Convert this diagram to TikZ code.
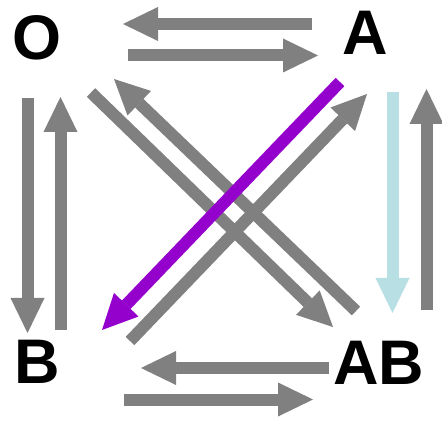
\documentclass[tikz,border=0pt]{standalone}
\usepackage{fontspec}
\setmainfont{Liberation Sans}
\usetikzlibrary{arrows.meta}
\definecolor{arrgray}{HTML}{808080}
\definecolor{arrpurple}{HTML}{9400CC}
\definecolor{arrcyan}{HTML}{B8DFE3}
\tikzset{
  lbl/.style={anchor=base, inner sep=0pt, font=\fontsize{63pt}{63pt}\selectfont\bfseries},
  fat/.style={line width=12pt, draw=arrgray, line cap=butt,
    -{Triangle[length=35pt 0 0, width=34pt 0 0, line width=0pt 0 0]}},
}
\begin{document}
\begin{tikzpicture}[x=1pt, y=-1pt]
\useasboundingbox[fill=white] (0,0) rectangle (442,422);
% labels
\node[lbl] (O)  at (37.5,59.5) {O};
\node[lbl] (A)  at (365.5,55) {A};
\node[lbl] (B)  at (37.5,383) {B};
\node[lbl] (AB) at (379,384) {AB};
% arrow end points
\coordinate (t1s) at (312,24);   \coordinate (t1e) at (123,24);
\coordinate (t2s) at (128,55.5); \coordinate (t2e) at (318,55.5);
\coordinate (b1s) at (329,368);  \coordinate (b1e) at (141,368);
\coordinate (b2s) at (124,399.5);\coordinate (b2e) at (313,399.5);
\coordinate (l1s) at (27.5,98);  \coordinate (l1e) at (27.5,333);
\coordinate (l2s) at (60.5,330); \coordinate (l2e) at (60.5,97);
\coordinate (r1s) at (392.5,92); \coordinate (r1e) at (392.5,313);
\coordinate (r2s) at (426.5,310);\coordinate (r2e) at (426.5,89);
\coordinate (d1s) at (356,311);  \coordinate (d1e) at (114,79);
\coordinate (d2s) at (91,92.5);  \coordinate (d2e) at (333,327);
\coordinate (d3s) at (130,341);  \coordinate (d3e) at (367,94);
\coordinate (d4s) at (340,82);   \coordinate (d4e) at (102,330);
% horizontal
\draw[fat] (t1s) -- (t1e);
\draw[fat] (t2s) -- (t2e);
\draw[fat] (b1s) -- (b1e);
\draw[fat] (b2s) -- (b2e);
% vertical
\draw[fat] (l1s) -- (l1e);
\draw[fat] (l2s) -- (l2e);
\draw[fat, draw=arrcyan, arrcyan] (r1s) -- (r1e);
\draw[fat] (r2s) -- (r2e);
% diagonals
\draw[fat] (d1s) -- (d1e);
\draw[fat] (d2s) -- (d2e);
\draw[fat] (d3s) -- (d3e);
\draw[fat, draw=arrpurple, arrpurple] (d4s) -- (d4e);
\end{tikzpicture}
\end{document}
